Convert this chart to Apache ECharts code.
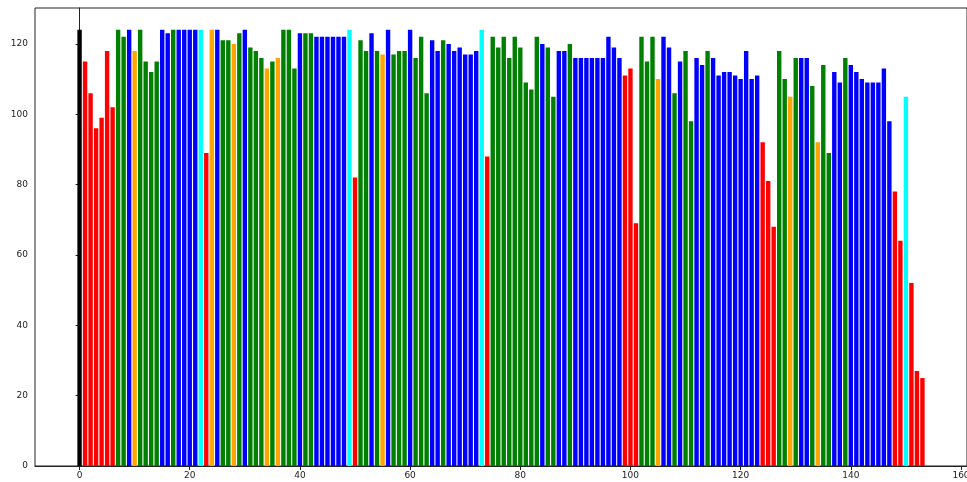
<!DOCTYPE html>
<html>
<head>
<meta charset="utf-8">
<script src="https://cdn.jsdelivr.net/npm/echarts@6/dist/echarts.min.js"></script>
<style>
  html, body { margin: 0; padding: 0; background: #fff; }
  #chart { width: 967px; height: 482px; }
</style>
</head>
<body>
<div id="chart"></div>
<script>
// Bar heights, one per position 0..153
const values = [
  124,115,106,96,99,118,102,124,122,124,
  118,124,115,112,115,124,123,124,124,124,
  124,124,124,89,124,124,121,121,120,123,
  124,119,118,116,113,115,116,124,124,113,
  123,123,123,122,122,122,122,122,122,124,
  82,121,118,123,118,117,124,117,118,118,
  124,116,122,106,121,118,121,120,118,119,
  117,117,118,124,88,122,119,122,116,122,
  119,109,107,122,120,119,105,118,118,120,
  116,116,116,116,116,116,122,119,116,111,
  113,69,122,115,122,110,122,119,106,115,
  118,98,116,114,118,116,111,112,112,111,
  110,118,110,111,92,81,68,118,110,105,
  116,116,116,108,92,114,89,112,109,116,
  114,112,110,109,109,109,113,98,78,64,
  105,52,27,25
];

// Group code for each bar (k, r, g, b, o, c)
const groups = (
  "krrrrrrggb" + "oggggbbgbb" + "bbcrobggog" + "bgggogoggg" +
  "bggbbbbbbc" + "rggbgobggg" + "bgggbbgbbb" + "bbbcrggggg" +
  "ggggbggbbg" + "bbbbbbbbbr" + "rrgggobbgb" + "ggbbgbbbbb" +
  "bbbbrrrggo" + "gbbgoggbbg" + "bbbbbbbbrr" + "crrr"
).split("");

const xTicks = [0, 20, 40, 60, 80, 100, 120, 140, 160];
const yTicks = [0, 20, 40, 60, 80, 100, 120];

const groupColors = {
  k: '#000000',
  r: '#ff0000',
  g: '#008000',
  b: '#0000ff',
  o: '#ffa500',
  c: '#00ffff'
};

const chart = echarts.init(document.getElementById('chart'), null, { renderer: 'canvas' });

const barData = values.map((v, i) => ({
  value: [i, v],
  itemStyle: { color: groupColors[groups[i]] }
}));

const labelStyle = {
  color: '#222',
  fontFamily: 'DejaVu Sans',
  fontSize: 9
};

chart.setOption({
  animation: false,
  grid: {
    left: 35,
    top: 8,
    width: 932,
    height: 458,
    outerBoundsMode: 'none',
    containLabel: false,
    show: true,
    borderColor: '#222',
    borderWidth: 1,
    backgroundColor: 'transparent'
  },
  xAxis: {
    type: 'value',
    min: -8.09,
    max: 161.09,
    splitLine: { show: false },
    axisLine: { show: true, onZero: false, lineStyle: { color: '#222', width: 1 } },
    axisTick: { show: true, length: 4, customValues: xTicks, lineStyle: { color: '#222' } },
    axisLabel: Object.assign({ customValues: xTicks, margin: 5, hideOverlap: false }, labelStyle)
  },
  yAxis: {
    type: 'value',
    min: 0,
    max: 130.2,
    splitLine: { show: false },
    axisLine: { show: true, lineStyle: { color: '#222', width: 1 } },
    axisTick: { show: true, length: 4, customValues: yTicks, lineStyle: { color: '#222' } },
    axisLabel: Object.assign({ customValues: yTicks, margin: 7 }, labelStyle)
  },
  series: [{
    type: 'bar',
    data: barData,
    barWidth: 4.4,
    barGap: '-100%'
  }]
});
</script>
</body>
</html>
